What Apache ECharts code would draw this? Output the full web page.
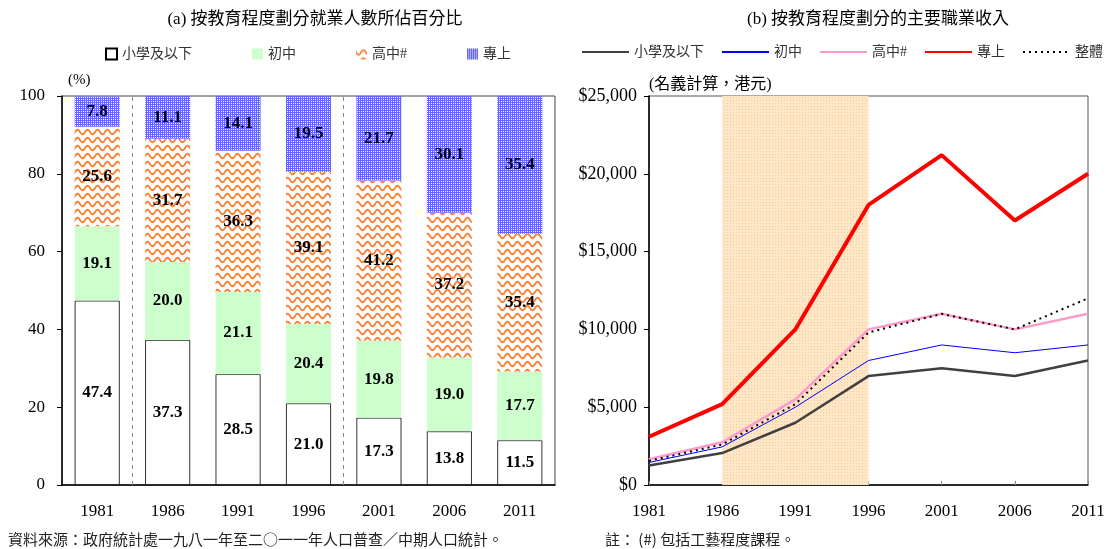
<!DOCTYPE html>
<html><head><meta charset="utf-8">
<script src="https://cdn.jsdelivr.net/npm/echarts@6/dist/echarts.min.js"></script>
<style>html,body{margin:0;padding:0;background:#fff}#c{width:1109px;height:549px}</style>
</head><body><div id="c"></div>
<script>
// ---- data ----
const years = ['1981','1986','1991','1996','2001','2006','2011'];
const barNames = ['小學及以下','初中','高中#','專上'];
const sharePrimary  = [47.4, 37.3, 28.5, 21.0, 17.3, 13.8, 11.5];
const shareLowerSec = [19.1, 20.0, 21.1, 20.4, 19.8, 19.0, 17.7];
const shareUpperSec = [25.6, 31.7, 36.3, 39.1, 41.2, 37.2, 35.4];
const sharePostSec  = [7.8, 11.1, 14.1, 19.5, 21.7, 30.1, 35.4];
const lineNames = ['小學及以下','初中','高中#','專上','整體'];
const incPrimary  = [1250, 2050, 4000, 7000, 7500, 7000, 8000];
const incLowerSec = [1450, 2450, 5000, 8000, 9000, 8500, 9000];
const incUpperSec = [1650, 2750, 5500, 10000, 11000, 10000, 11000];
const incPostSec  = [3100, 5200, 10000, 18000, 21200, 17000, 20000];
const incOverall  = [1550, 2600, 5200, 9800, 11000, 10000, 12000];
const pctTicks = [0, 20, 40, 60, 80, 100];
const incTicks = [0, 5000, 10000, 15000, 20000, 25000];
const separatorsAt = [1, 4];          // boundaries between census groups
const shadedPeriod = ['1986', '1996'];
const titleA = '(a) 按教育程度劃分就業人數所佔百分比';
const titleB = '(b) 按教育程度劃分的主要職業收入';
const sourceNote = '資料來源：政府統計處一九八一年至二○一一年人口普查／中期人口統計。';
const footNote = '註： (#) 包括工藝程度課程。';

// line series get an invisible suffix so legend (b) does not pick up bar styles
const ZW = '\u200b';
const lineKeys = lineNames.map(n => n + ZW);

// ---- patterns ----
function wavePattern(){
  const c = document.createElement('canvas'); c.width = 10; c.height = 8;
  const g = c.getContext('2d'); g.fillStyle = '#fff'; g.fillRect(0,0,10,8);
  g.strokeStyle = '#ff7d2e'; g.lineWidth = 1.9; g.beginPath();
  for (let x = -1; x <= 11; x += 0.5) { const y = 4 + 2.3*Math.sin(2*Math.PI*x/10); x===-1?g.moveTo(x,y):g.lineTo(x,y); }
  g.stroke(); return c;
}
function dotPattern(){
  const c = document.createElement('canvas'); c.width = 4; c.height = 4;
  const g = c.getContext('2d'); g.fillStyle = '#6464ff'; g.fillRect(0,0,4,4);
  g.fillStyle = '#ffffff'; g.fillRect(1,1,1,1); g.fillRect(3,3,1,1);
  g.fillStyle = '#e4e4ff'; g.fillRect(3,1,1,1); g.fillRect(1,3,1,1);
  return c;
}
function peachPattern(){
  const c = document.createElement('canvas'); c.width = 3; c.height = 3;
  const g = c.getContext('2d'); g.fillStyle = '#fee7c8'; g.fillRect(0,0,3,3);
  g.fillStyle = '#f8c88c'; g.fillRect(1,1,1,1);
  return c;
}
const wave = {image: wavePattern(), repeat: 'repeat'};
const dots = {image: dotPattern(), repeat: 'repeat'};
const peach = {image: peachPattern(), repeat: 'repeat'};

const serif = "'Liberation Serif', 'Times New Roman', 'Noto Sans CJK TC', serif";
const cjk = "'Liberation Serif', 'Noto Sans CJK TC', sans-serif";

const barLabel = {show: true, position: 'inside', color: '#000', fontWeight: 'bold',
  fontFamily: serif, fontSize: 17, formatter: p => p.value.toFixed(1)};

function barSeries(name, data, itemStyle){
  return {name, type: 'bar', stack: 'a', xAxisIndex: 0, yAxisIndex: 0, barWidth: 45,
    data, itemStyle, label: barLabel, emphasis: {disabled: true}};
}
function lineSeries(name, data, color, width, type){
  return {name, type: 'line', xAxisIndex: 2, yAxisIndex: 1, data, symbol: 'none',
    lineStyle: {color, width, type: type || 'solid'}, itemStyle: {color}, z: 5, emphasis: {disabled: true}};
}

const chart = echarts.init(document.getElementById('c'));
chart.setOption({
  animation: false,
  backgroundColor: '#fff',
  title: [
    {text: titleA, left: 310, top: 6, textAlign: 'center', textStyle: {fontFamily: cjk, fontSize: 17, fontWeight: 'normal', color: '#000'}},
    {text: titleB, left: 873, top: 6, textAlign: 'center', textStyle: {fontFamily: cjk, fontSize: 17, fontWeight: 'normal', color: '#000'}}
  ],
  legend: [
    {data: barNames, left: 100, top: 42, icon: 'rect', itemWidth: 11, itemHeight: 11, itemGap: 60,
      textStyle: {fontFamily: cjk, fontSize: 14, color: '#333'}},
    {data: lineKeys, left: 576, top: 40, width: 540, itemWidth: 47, itemHeight: 12, itemGap: 17,
      itemStyle: {opacity: 0},
      formatter: n => n.replace(ZW, ''),
      textStyle: {fontFamily: cjk, fontSize: 14, color: '#333'}}
  ],
  grid: [
    {left: 62, right: 554, top: 96, bottom: 64, show: true, borderColor: '#444', borderWidth: 1},
    {left: 649, right: 21, top: 96, bottom: 64, show: true, borderColor: '#555', borderWidth: 1}
  ],
  xAxis: [
    {type: 'category', gridIndex: 0, data: years,
      axisLine: {lineStyle: {color: '#000', width: 1.5}},
      axisTick: {inside: true, length: 5, lineStyle: {color: '#888'}},
      axisLabel: {fontFamily: serif, fontSize: 17, color: '#000', margin: 18}},
    {type: 'value', gridIndex: 0, min: 0, max: 7, show: false},
    {type: 'category', gridIndex: 1, data: years, boundaryGap: false,
      axisLine: {lineStyle: {color: '#000', width: 1.5}},
      axisTick: {inside: true, length: 4, lineStyle: {color: '#888'}},
      axisLabel: {fontFamily: serif, fontSize: 17, color: '#000', margin: 18}}
  ],
  yAxis: [
    {type: 'value', gridIndex: 0, min: pctTicks[0], max: pctTicks[pctTicks.length-1], interval: pctTicks[1]-pctTicks[0],
      name: '(%)', nameLocation: 'end', nameGap: 8,
      nameTextStyle: {fontFamily: serif, fontSize: 15, color: '#000', align: 'left', padding: [0,0,0,6]},
      axisLine: {show: true, lineStyle: {color: '#000', width: 1.5}},
      axisTick: {show: true, length: 5, lineStyle: {color: '#000'}},
      splitLine: {show: false},
      axisLabel: {fontFamily: serif, fontSize: 17, color: '#000', margin: 17}},
    {type: 'value', gridIndex: 1, min: incTicks[0], max: incTicks[incTicks.length-1], interval: incTicks[1]-incTicks[0],
      name: '(名義計算，港元)', nameLocation: 'end', nameGap: 3,
      nameTextStyle: {fontFamily: cjk, fontSize: 16, color: '#000', align: 'left', padding: [0,0,0,0]},
      axisLine: {show: true, lineStyle: {color: '#000', width: 1.5}},
      axisTick: {show: true, length: 5, lineStyle: {color: '#000'}},
      splitLine: {show: false},
      axisLabel: {fontFamily: serif, fontSize: 18, color: '#000', margin: 12,
        formatter: v => '$' + v.toLocaleString('en-US')}}
  ],
  series: [
    barSeries(barNames[0], sharePrimary, {color: '#fff', borderColor: '#000', borderWidth: 0.8}),
    barSeries(barNames[1], shareLowerSec, {color: '#ccffcc'}),
    barSeries(barNames[2], shareUpperSec, {color: wave}),
    barSeries(barNames[3], sharePostSec, {color: dots}),
    {type: 'scatter', xAxisIndex: 1, yAxisIndex: 0, data: [[0, 0]], symbolSize: 0, silent: true,
      markLine: {silent: true, symbol: 'none', label: {show: false},
        lineStyle: {type: [4, 4], color: '#888', width: 1},
        data: separatorsAt.map(v => ({xAxis: v}))}},
    Object.assign(lineSeries(lineKeys[0], incPrimary, '#404040', 2.5), {
      markArea: {silent: true, itemStyle: {color: peach}, data: [[{xAxis: shadedPeriod[0]}, {xAxis: shadedPeriod[1]}]]}}),
    lineSeries(lineKeys[1], incLowerSec, '#0000ff', 1),
    lineSeries(lineKeys[2], incUpperSec, '#ff99cc', 2.5),
    lineSeries(lineKeys[3], incPostSec, '#ff0000', 4),
    lineSeries(lineKeys[4], incOverall, '#000000', 2, [2, 4])
  ],
  graphic: [
    {type: 'text', left: 8, top: 532, style: {text: sourceNote, font: "15px 'Noto Sans CJK TC'", fill: '#222'}},
    {type: 'text', left: 605, top: 532, style: {text: footNote, font: "15px 'Noto Sans CJK TC'", fill: '#222'}}
  ]
});
</script>
</body></html>
